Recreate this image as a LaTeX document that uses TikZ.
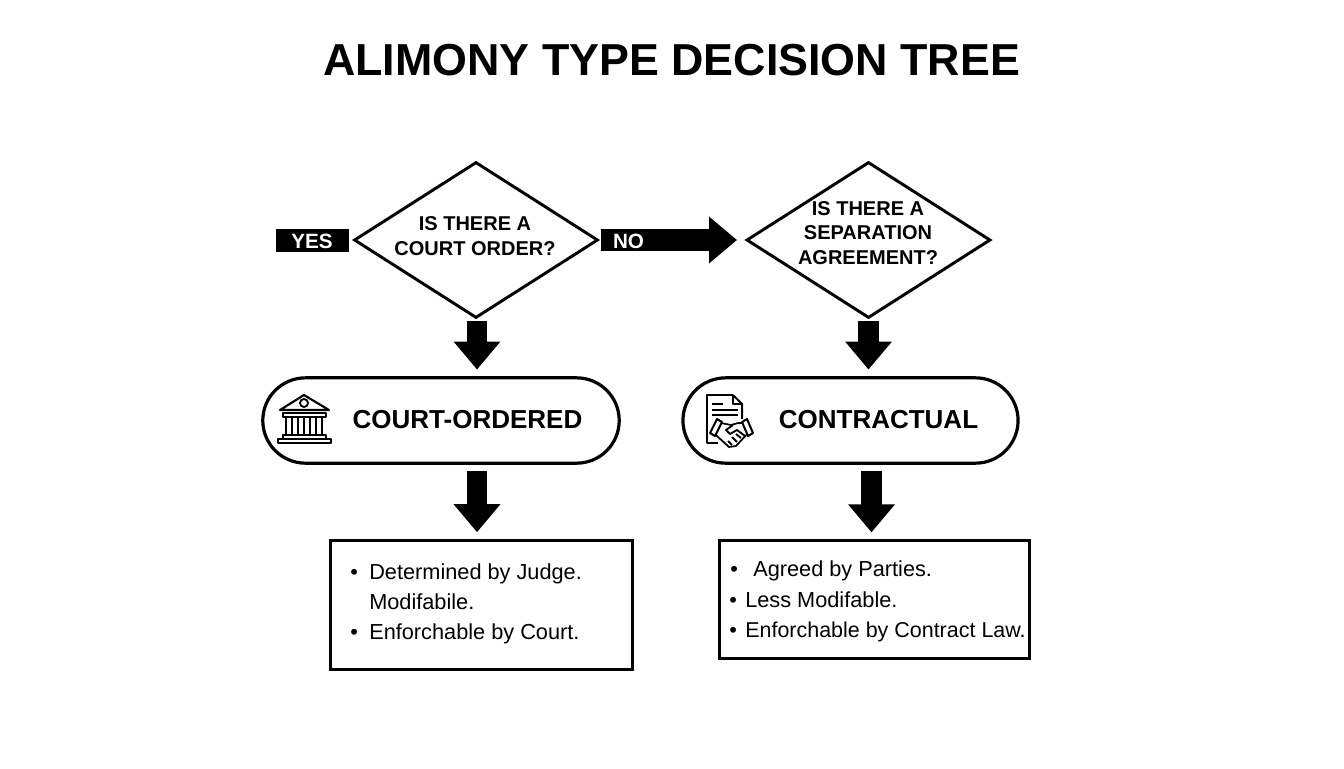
\documentclass[tikz,border=0pt]{standalone}
\usepackage{fontspec}
\setmainfont{Liberation Sans}
\usetikzlibrary{arrows.meta,shapes.geometric,shapes.misc}

\tikzset{
  decision/.style={draw,line width=2.2pt,diamond,aspect=1.56,inner sep=0pt,minimum width=183pt,minimum height=117pt},
  pill/.style={draw,line width=2.4pt,rounded rectangle,minimum height=64pt},
  infobox/.style={draw,line width=2.2pt,rectangle},
  qtext/.style={font=\bfseries\fontsize{15}{18.6}\selectfont,align=center},
  pilltext/.style={font=\bfseries\fontsize{19.5}{22}\selectfont},
  tagtext/.style={font=\bfseries\fontsize{15.5}{18}\selectfont,text=white,anchor=base},
  itemtext/.style={font=\fontsize{16.3}{20}\selectfont,anchor=base west,inner sep=0pt},
  blockarrow/.style={line width=15.5pt,-{Triangle[length=21pt,width=33.75pt]}},
  icon/.style={line width=1.4pt,line join=round}
}

\begin{document}
\begin{tikzpicture}[x=0.75pt,y=-0.75pt]
\useasboundingbox (0,0) rectangle (1344,768);

\node[font=\bfseries\fontsize{33.6}{38}\selectfont,anchor=base] (title) at (671.5,75) {ALIMONY TYPE DECISION TREE};

% questions
\node[decision] (q1) at (476,240) {};
\node[decision] (q2) at (868.5,240) {};
\node[qtext] (q1text) at (475,236) {IS THERE A\\COURT ORDER?};
\node[qtext] (q2text) at (868,233) {IS THERE A\\SEPARATION\\AGREEMENT?};

% results
\node[pill,minimum width=274pt] (court) at (441,420.5) {};
\node[pill,minimum width=258pt] (contract) at (850.5,420.5) {};
\node[pilltext] (courttext) at (467.5,420) {COURT-ORDERED};
\node[pilltext] (contracttext) at (878.5,420) {CONTRACTUAL};

\node[infobox,minimum width=227pt,minimum height=97pt] (box1) at (481.5,605) {};
\node[infobox,minimum width=233pt,minimum height=88.5pt] (box2) at (874.5,599.5) {};

% yes and no tags
\node[fill=black,minimum width=55pt,minimum height=17pt,inner sep=0pt] (yes) at (312.5,240.5) {};
\node[tagtext] (yestext) at (312,248) {YES};

\draw[blockarrow,line width=16.5pt,shorten <=1pt,shorten >=6pt] (q1.east) -- (q2.west);
\node[tagtext] (notext) at (628.5,248) {NO};

\draw[blockarrow,shorten <=1.5pt,shorten >=5pt] ([xshift=0.75pt]q1.south) -- ([xshift=0.75pt]q1.south |- court.north);
\draw[blockarrow,shorten <=1.5pt,shorten >=5pt] (q2.south) -- (q2.south |- contract.north);
\draw[blockarrow,shorten <=5pt,shorten >=5pt] ([xshift=27pt]court.south) -- ([xshift=27pt]court.south |- box1.north);
\draw[blockarrow,shorten <=5pt,shorten >=5pt] ([xshift=15.75pt]contract.south) -- ([xshift=15.75pt]contract.south |- box2.north);

% lists
\node[itemtext] (a0) at (350,579) {•};
\node[itemtext] (a1) at (369,579) {Determined by Judge.};
\node[itemtext] (a2) at (369,609) {Modifabile.};
\node[itemtext] (a3) at (350,639) {•};
\node[itemtext] (a4) at (369,639) {Enforchable by Court.};

\node[itemtext] (b0) at (730,576) {•};
\node[itemtext] (b1) at (753,576) {Agreed by Parties.};
\node[itemtext] (b2) at (729,607) {•};
\node[itemtext] (b3) at (745,607) {Less Modifable.};
\node[itemtext] (b4) at (729,637) {•};
\node[itemtext,font=\fontsize{16.1}{20}\selectfont] (b5) at (745,637) {Enforchable by Contract Law.};

% court building
\draw[icon,line width=1.6pt] (304,395) -- (280,410) -- (329,410) -- cycle;
\draw[icon] (304,403) circle (4);
\draw[icon] (283,413) rectangle (326,417);
\foreach \x in {286,292,298,304,310,316,322}
  \draw[icon,line width=1.2pt] (\x,417) -- (\x,435);
\draw[icon] (283,435) rectangle (326,439);
\draw[icon,line width=1.6pt] (278,439) rectangle (331,443);

% contract and handshake
\draw[icon,line width=1.5pt] (733,395) -- (707,395) -- (707,443) -- (718,443);
\draw[icon,line width=1.5pt] (733,395) -- (742,404) -- (742,419);
\draw[icon] (733,395) -- (733,404) -- (742,404);
\draw[line width=1.5pt] (712,403.5) -- (723,403.5) (712,409.5) -- (738,409.5) (712,415) -- (738,415);
\draw[icon,fill=white,line width=1.3pt] (721,423) -- (731,425) -- (738,423) -- (744,423) -- (749,432) -- (736,446) -- (729,447) -- (718,437) -- (714,433) -- cycle;
\draw[icon,fill=white] (733,425) -- (726,430) -- (730,434) -- (737,430) -- (745,436);
\draw[icon] (741,438) -- (736,434) (737,442) -- (732,437) (732,445) -- (728,441);
\draw[icon,fill=white,line width=1.5pt] (717,419) -- (722,422) -- (715,436) -- (710,433) -- cycle;
\draw[icon,fill=white,line width=1.5pt] (747,419) -- (753,433) -- (748,436) -- (742,422) -- cycle;
\end{tikzpicture}
\end{document}
